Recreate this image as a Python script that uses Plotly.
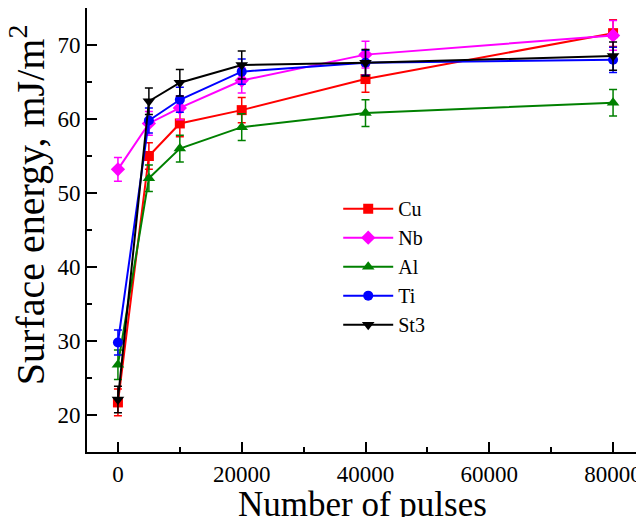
import plotly.graph_objects as go

pulses = [0, 5000, 10000, 20000, 40000, 80000]

cu = [21.7, 55.0, 59.4, 61.2, 65.4, 71.6]
cu_err = [1.8, 1.8, 1.8, 1.7, 1.8, 1.8]
nb = [53.2, 59.4, 61.5, 65.2, 68.7, 71.3]
nb_err = [1.6, 1.6, 1.6, 1.7, 1.8, 2.0]
al = [26.8, 52.0, 56.0, 58.9, 60.8, 62.2]
al_err = [2.0, 1.8, 1.8, 1.8, 1.8, 1.8]
ti = [29.8, 59.8, 62.6, 66.4, 67.6, 68.0]
ti_err = [1.7, 1.7, 1.7, 1.7, 1.7, 1.7]
st3 = [22.1, 62.4, 64.9, 67.3, 67.6, 68.5]
st3_err = [1.8, 1.8, 1.8, 1.9, 1.8, 1.9]

names = ["Cu", "Nb", "Al", "Ti", "St3"]
values = [cu, nb, al, ti, st3]
errors = [cu_err, nb_err, al_err, ti_err, st3_err]
colors = ["#FF0000", "#FF00FF", "#008000", "#0000FF", "#000000"]
symbols = ["square", "diamond", "triangle-up", "circle", "triangle-down"]
sizes = [10, 11, 11, 10, 11]

y_ticks = [20, 30, 40, 50, 60, 70]
x_ticks = [0, 20000, 40000, 60000, 80000]

fig = go.Figure()
for n, v, e, c, s, sz in zip(names, values, errors, colors, symbols, sizes):
    fig.add_trace(go.Scatter(
        x=pulses, y=v, name=n, mode="lines+markers",
        line=dict(color=c, width=2),
        marker=dict(symbol=s, size=sz, color=c),
        error_y=dict(type="data", array=e, visible=True, color=c, thickness=1.5, width=4),
    ))

font = "Liberation Serif, Times New Roman, serif"
fig.update_layout(
    width=636, height=509,
    margin=dict(l=79, r=0, t=0, b=65, autoexpand=False),
    paper_bgcolor="white", plot_bgcolor="white",
    font=dict(family=font, color="black", size=22),
    showlegend=True,
    legend=dict(x=0.451, y=0.592, xanchor="left", yanchor="top",
                bgcolor="rgba(0,0,0,0)", font=dict(size=20, family=font),
                itemwidth=50, tracegroupgap=0),
    xaxis=dict(
        range=[-5000, 85000], showline=True, linecolor="black", linewidth=2,
        showgrid=False, zeroline=False, ticks="inside", ticklen=10, tickwidth=2,
        tickcolor="black", tickvals=x_ticks, ticktext=[str(t) for t in x_ticks],
        tickfont=dict(size=23, family=font), automargin=False,
        minor=dict(ticks="inside", ticklen=5, tickwidth=2, dtick=10000, tick0=0, tickcolor="black"),
    ),
    yaxis=dict(
        range=[15, 75], showline=True, linecolor="black", linewidth=2,
        showgrid=False, zeroline=False, ticks="inside", ticklen=10, tickwidth=2,
        tickcolor="black", tickvals=y_ticks, ticktext=[str(t) for t in y_ticks],
        tickfont=dict(size=23, family=font), automargin=False,
        minor=dict(ticks="inside", ticklen=5, tickwidth=2, dtick=5, tick0=0, tickcolor="black"),
    ),
    annotations=[
        dict(text="Number of pulses", xref="paper", yref="paper", x=0.4955, y=-0.119,
             xanchor="center", yanchor="middle", showarrow=False,
             font=dict(size=35, family=font, color="black")),
        dict(text="Surface energy, mJ/m<sup>2</sup>", xref="paper", yref="paper",
             x=-0.1077, y=0.556, xanchor="center", yanchor="middle", textangle=-90,
             showarrow=False, font=dict(size=40, family=font, color="black")),
    ],
)

fig.write_html("out.html")
